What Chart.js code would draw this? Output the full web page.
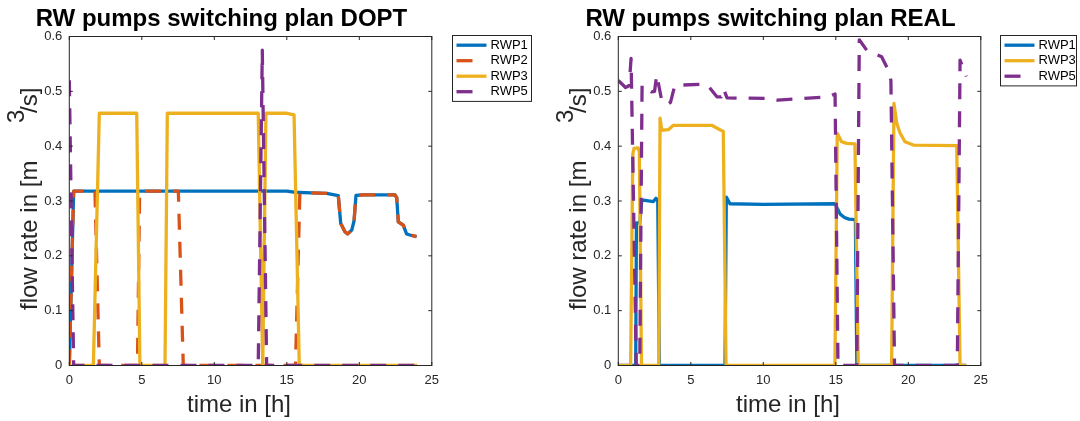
<!DOCTYPE html>
<html>
<head>
<meta charset="utf-8">
<script src="https://cdn.jsdelivr.net/npm/chart.js@4.4.1/dist/chart.umd.min.js"></script>
<style>
  html, body { margin: 0; padding: 0; background: #fff; overflow: hidden; }
  #wrap { position: relative; width: 1080px; height: 421px; }
  canvas { position: absolute; top: 0; }
</style>
</head>
<body>
<div id="wrap">
  <canvas id="dopt" width="549" height="421" style="left:0"></canvas>
  <canvas id="real" width="531" height="421" style="left:549px"></canvas>
</div>
<script>
// tick values
const timeTicks = [0, 5, 10, 15, 20, 25]
const flowTicks = [0, 0.1, 0.2, 0.3, 0.4, 0.5, 0.6]

// DOPT plan (time in h, flow in m3/s)
const doptRwp1T = [0, 0.3, 15.0, 15.5, 16.7, 17.75, 18.55, 18.72, 19.01, 19.2, 19.48, 19.64, 19.77, 20.2, 22.46, 22.58, 22.69, 23.03, 23.26, 23.49, 23.95]
const doptRwp1Q = [0, 0.318, 0.318, 0.316, 0.315, 0.314, 0.31, 0.259, 0.244, 0.24, 0.247, 0.264, 0.31, 0.311, 0.311, 0.306, 0.262, 0.256, 0.24, 0.238, 0.235]
const doptRwp2T = [0, 0.3, 1.77, 2.07, 4.7, 4.85, 7.52, 7.86, 15.6, 15.9, 16.7, 17.75, 18.55, 18.72, 19.01, 19.2, 19.48, 19.64, 19.77, 20.2, 22.46, 22.58, 22.69, 23.03, 23.26, 23.49, 23.95]
const doptRwp2Q = [0, 0.318, 0.318, 0, 0, 0.318, 0.318, 0, 0, 0.315, 0.315, 0.314, 0.31, 0.259, 0.244, 0.24, 0.247, 0.264, 0.31, 0.311, 0.311, 0.306, 0.262, 0.256, 0.24, 0.238, 0.235]
const doptRwp3T = [0, 1.66, 2.07, 4.65, 4.87, 6.6, 6.76, 13.03, 13.34, 13.56, 15.0, 15.5, 15.86, 24]
const doptRwp3Q = [0, 0, 0.46, 0.46, 0, 0, 0.46, 0.46, 0, 0.46, 0.46, 0.457, 0, 0]
const doptRwp5T = [0, 0.3, 13.03, 13.31, 13.61, 24]
const doptRwp5Q = [0.52, 0, 0, 0.575, 0, 0]

// REAL plan
const realRwp1T = [0, 1.2, 1.25, 1.48, 1.62, 2.42, 2.6, 2.72, 2.83, 7.36, 7.45, 7.7, 10, 14.94, 15.12, 15.3, 15.6, 15.9, 16.35, 16.45, 24]
const realRwp1Q = [0, 0, 0.26, 0.26, 0.302, 0.299, 0.305, 0.3, 0, 0, 0.307, 0.295, 0.294, 0.295, 0.286, 0.276, 0.27, 0.267, 0.266, 0, 0]
const realRwp3T = [0, 0.85, 1.0, 1.08, 1.36, 1.45, 1.6, 2.79, 2.88, 3.0, 3.45, 3.8, 6.44, 7.01, 7.24, 7.43, 14.94, 15.1, 15.4, 15.75, 16.32, 16.55, 18.85, 19.01, 19.2, 19.43, 19.77, 20.35, 23.34, 23.57, 24]
const realRwp3Q = [0, 0, 0.385, 0.396, 0.397, 0.39, 0, 0, 0.451, 0.429, 0.43, 0.438, 0.438, 0.43, 0.427, 0, 0, 0.4235, 0.408, 0.405, 0.404, 0, 0, 0.478, 0.442, 0.424, 0.408, 0.402, 0.401, 0, 0]
const realRwp5T = [0, 0.5, 0.75, 0.88, 1.24, 1.48, 1.64, 2.0, 2.3, 2.5, 2.65, 2.99, 3.33, 3.6, 3.9, 6.1, 6.8, 7.1, 7.25, 7.5, 10.5, 11.0, 14.5, 14.95, 15.15, 16.45, 16.62, 17.13, 18.16, 18.62, 18.8, 19.05, 23.38, 23.57, 24.0]
const realRwp5Q = [0.52, 0.507, 0.51, 0.56, 0, 0, 0.512, 0.505, 0.499, 0.5, 0.53, 0.484, 0.475, 0.48, 0.511, 0.513, 0.49, 0.49, 0.505, 0.488, 0.487, 0.484, 0.49, 0.495, 0, 0, 0.594, 0.575, 0.563, 0.539, 0.52, 0, 0, 0.557, 0.527]

const colors = { RWP1: '#0072BD', RWP2: '#D95319', RWP3: '#EDB120', RWP5: '#7E2F8E' }
const dashed = { RWP2: true, RWP5: true }
const drawOrder = { RWP1: 4, RWP2: 3, RWP3: 2, RWP5: 1 }
const axisColor = '#262626'
const font = '"Liberation Sans", Arial, sans-serif'

const pts = (t, q) => t.map((x, i) => ({ x: x, y: q[i] }))

const series = (name, t, q) => ({
    label: name,
    data: pts(t, q),
    borderColor: colors[name],
    backgroundColor: colors[name],
    borderWidth: 3.3,
    borderDash: dashed[name] ? [16, 12] : [],
    borderJoinStyle: 'round',
    pointRadius: 0,
    tension: 0,
    fill: false,
    order: drawOrder[name]
})

// matlab-like box, inner ticks, labels and legend
const matlabLook = {
    id: 'matlabLook',
    afterDraw(chart, args, opts) {
        const ctx = chart.ctx
        const a = chart.chartArea
        const xs = chart.scales.x
        const ys = chart.scales.y
        ctx.save()
        ctx.strokeStyle = axisColor
        ctx.lineWidth = 1
        ctx.setLineDash([])
        ctx.strokeRect(a.left, a.top, a.right - a.left, a.bottom - a.top)
        const tl = 3.5
        ctx.beginPath()
        timeTicks.forEach(v => {
            const px = xs.getPixelForValue(v)
            ctx.moveTo(px, a.bottom); ctx.lineTo(px, a.bottom - tl)
            ctx.moveTo(px, a.top); ctx.lineTo(px, a.top + tl)
        })
        flowTicks.forEach(v => {
            const py = ys.getPixelForValue(v)
            ctx.moveTo(a.left, py); ctx.lineTo(a.left + tl, py)
            ctx.moveTo(a.right, py); ctx.lineTo(a.right - tl, py)
        })
        ctx.stroke()

        // title
        ctx.fillStyle = '#000'
        ctx.font = 'bold 24px ' + font
        ctx.textAlign = 'center'
        ctx.textBaseline = 'alphabetic'
        ctx.fillText(opts.title, 221.5, 26)

        // x label
        ctx.fillStyle = axisColor
        ctx.font = '24px ' + font
        ctx.fillText('time in [h]', 239, 411.5)

        // y label, rotated, with the raised 3
        ctx.save()
        ctx.translate(36.5, 310)
        ctx.rotate(-Math.PI / 2)
        ctx.textAlign = 'left'
        ctx.fillText('flow rate in [m', 0, 0)
        ctx.fillText('3', 187, -13)
        ctx.fillText('/s]', 197, 0)
        ctx.restore()

        // legend
        const ds = chart.data.datasets
        ctx.font = '13px ' + font
        const bx = opts.legendX, by = 35.5
        const rowH = 15.5
        const bw = opts.legendW
        const bh = 19.4 + (ds.length - 1) * rowH
        ctx.fillStyle = '#fff'
        ctx.fillRect(bx, by, bw, bh)
        ctx.strokeStyle = axisColor
        ctx.lineWidth = 1
        ctx.strokeRect(bx, by, bw, bh)
        ds.forEach((d, i) => {
            const cy = by + 9.7 + i * rowH
            ctx.strokeStyle = d.borderColor
            ctx.lineWidth = 3.3
            ctx.setLineDash(d.borderDash.length ? [16, 20] : [])
            ctx.beginPath()
            ctx.moveTo(bx + 4, cy)
            ctx.lineTo(bx + 34, cy)
            ctx.stroke()
            ctx.setLineDash([])
            ctx.fillStyle = '#000'
            ctx.textAlign = 'left'
            ctx.textBaseline = 'middle'
            ctx.fillText(d.label, bx + 38, cy)
        })
        ctx.restore()
    }
}

const makeChart = (id, title, datasets, canvasWidth, legendX, legendW) => {
    const areaLeft = 69.3, areaRight = 431.8, areaTop = 36.5, areaBottom = 365.5
    return new Chart(document.getElementById(id), {
        type: 'line',
        data: { datasets: datasets },
        options: {
            responsive: false,
            animation: false,
            devicePixelRatio: 1,
            layout: { padding: { left: 0, right: canvasWidth - areaRight, top: areaTop, bottom: 0 } },
            scales: {
                x: {
                    type: 'linear', min: 0, max: 25,
                    afterBuildTicks: s => { s.ticks = timeTicks.map(v => ({ value: v })) },
                    afterFit: s => { s.height = 421 - areaBottom },
                    grid: { display: false, drawTicks: false },
                    border: { display: false },
                    ticks: { font: { family: font, size: 13 }, color: axisColor, padding: 7, maxRotation: 0, autoSkip: false }
                },
                y: {
                    min: 0, max: 0.6,
                    afterBuildTicks: s => { s.ticks = flowTicks.map(v => ({ value: v })) },
                    afterFit: s => { s.width = areaLeft },
                    grid: { display: false, drawTicks: false },
                    border: { display: false },
                    ticks: { font: { family: font, size: 13 }, color: axisColor, padding: 7, autoSkip: false }
                }
            },
            plugins: {
                legend: { display: false },
                tooltip: { enabled: false },
                matlabLook: { title: title, legendX: legendX, legendW: legendW }
            }
        },
        plugins: [matlabLook]
    })
}

makeChart('dopt', 'RW pumps switching plan DOPT', [
    series('RWP1', doptRwp1T, doptRwp1Q),
    series('RWP2', doptRwp2T, doptRwp2Q),
    series('RWP3', doptRwp3T, doptRwp3Q),
    series('RWP5', doptRwp5T, doptRwp5Q)
], 549, 452.5, 79)

makeChart('real', 'RW pumps switching plan REAL', [
    series('RWP1', realRwp1T, realRwp1Q),
    series('RWP3', realRwp3T, realRwp3Q),
    series('RWP5', realRwp5T, realRwp5Q)
], 531, 451.5, 76)
</script>
</body>
</html>
